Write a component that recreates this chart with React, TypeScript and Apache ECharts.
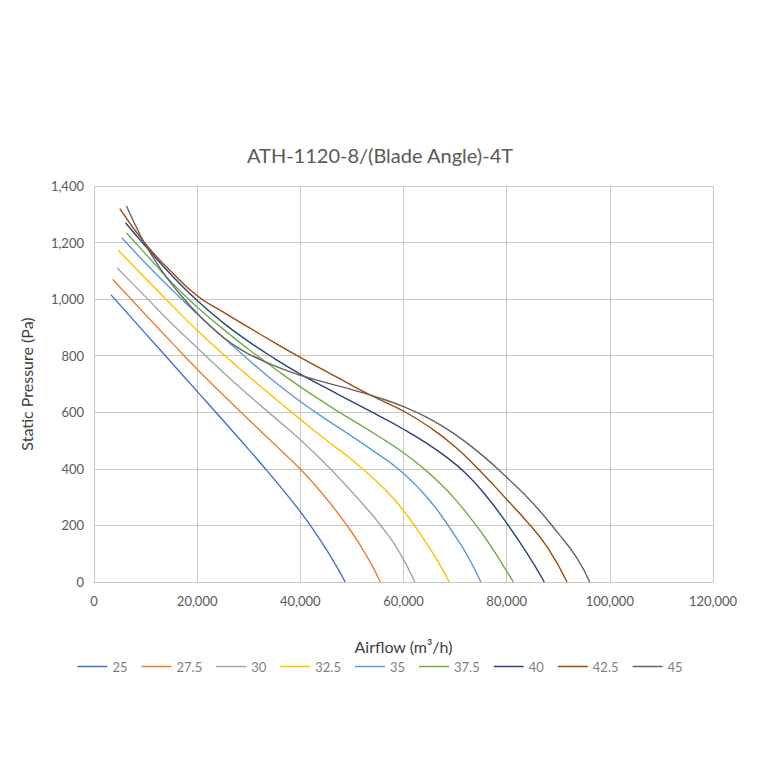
import React, { useEffect, useRef } from "react";
import * as echarts from "echarts";

const bladeAngles = ["25", "27.5", "30", "32.5", "35", "37.5", "40", "42.5", "45"];
const colors = ["#4472C4", "#ED7D31", "#A5A5A5", "#FFC000", "#5B9BD5", "#70AD47", "#264478", "#9E480E", "#636363"];

const s25 = [[3300, 1015], [10000, 878], [15000, 776], [20000, 674], [25000, 572], [30000, 468], [33000, 405], [36000, 340], [39000, 272], [41000, 224], [43000, 172], [45000, 116], [47000, 56], [48700, 0]];
const s27_5 = [[3600, 1070], [10000, 945], [15000, 848], [20000, 752], [25000, 662], [30000, 574], [35000, 487], [38000, 435], [41000, 380], [44000, 318], [47000, 250], [50000, 175], [52500, 103], [54000, 55], [55500, 0]];
const s30 = [[4500, 1110], [10000, 1008], [15000, 915], [20000, 828], [25000, 742], [30000, 660], [35000, 582], [40000, 503], [45000, 415], [50000, 318], [53000, 257], [56000, 190], [59000, 112], [62200, 0]];
const s32_5 = [[4700, 1173], [10000, 1073], [15000, 980], [20000, 890], [25000, 806], [30000, 727], [35000, 650], [40000, 575], [45000, 502], [50000, 432], [55000, 352], [58000, 296], [61000, 228], [64000, 150], [66500, 78], [68900, 0]];
const s35 = [[5400, 1217], [10000, 1127], [15000, 1035], [20000, 948], [25000, 865], [30000, 785], [35000, 708], [40000, 638], [45000, 575], [50000, 515], [55000, 453], [58000, 414], [61000, 367], [64000, 311], [67000, 243], [70000, 163], [72500, 90], [75000, 0]];
const s37_5 = [[6300, 1234], [10000, 1160], [15000, 1060], [20000, 972], [25000, 895], [30000, 822], [35000, 755], [40000, 690], [45000, 630], [50000, 573], [55000, 517], [60000, 457], [64000, 400], [67000, 350], [70000, 293], [73000, 226], [76000, 152], [79000, 68], [81300, 0]];
const s40 = [[6100, 1270], [10000, 1187], [15000, 1085], [20000, 995], [25000, 917], [30000, 850], [35000, 790], [40000, 735], [45000, 686], [50000, 638], [55000, 590], [60000, 540], [64000, 496], [68000, 446], [72000, 385], [76000, 305], [80000, 208], [84000, 100], [87300, 0]];
const s42_5 = [[5000, 1320], [10000, 1195], [15000, 1097], [20000, 1012], [25000, 955], [30000, 900], [35000, 846], [40000, 794], [45000, 745], [50000, 695], [55000, 648], [60000, 604], [65000, 548], [70000, 478], [75000, 390], [80000, 292], [84000, 212], [88000, 120], [91700, 0]];
const s45 = [[6300, 1329], [8000, 1262], [10000, 1192], [12500, 1118], [15000, 1055], [17500, 1000], [20000, 950], [22500, 905], [25000, 866], [27500, 833], [30000, 806], [35000, 764], [40000, 731], [45000, 705], [50000, 680], [55000, 653], [60000, 620], [65000, 578], [70000, 522], [75000, 452], [80000, 370], [85000, 280], [90000, 172], [93500, 88], [96100, 0]];

const seriesData = [s25, s27_5, s30, s32_5, s35, s37_5, s40, s42_5, s45];

const FONT = "Lato, 'Open Sans', sans-serif";

export default function App() {
  const ref = useRef<HTMLDivElement>(null);
  useEffect(() => {
    if (!ref.current) return;
    const chart = echarts.init(ref.current, undefined, { renderer: "svg" });
    chart.setOption({
      animation: false,
      color: colors,
      textStyle: { fontFamily: FONT },
      title: {
        text: "ATH-1120-8/(Blade Angle)-4T",
        left: "center",
        top: 132,
        textStyle: { fontSize: 20, fontWeight: "normal", color: "#595959", fontFamily: FONT },
      },
      grid: { left: 86, right: 39, top: 178, bottom: 170, containLabel: false },
      legend: {
        data: bladeAngles,
        bottom: 74,
        left: "center",
        icon: "rect",
        itemWidth: 30,
        itemHeight: 1.5,
        itemGap: 14,
        textStyle: { color: "#7f7f7f", fontSize: 13, fontFamily: FONT },
      },
      xAxis: {
        type: "value",
        min: 0,
        max: 120000,
        interval: 20000,
        name: "Airflow (m³/h)",
        nameLocation: "middle",
        nameGap: 56,
        nameTextStyle: { fontSize: 16, color: "#404040", fontFamily: FONT },
        axisLine: { show: true, lineStyle: { color: "#c8c8c8" } },
        axisTick: { show: false },
        axisLabel: {
          color: "#595959",
          fontSize: 13,
          margin: 12,
          formatter: (v: number) => v.toLocaleString("en-US"),
        },
        splitLine: { show: true, lineStyle: { color: "#c8c8c8", width: 1 } },
      },
      yAxis: {
        type: "value",
        min: 0,
        max: 1400,
        interval: 200,
        name: "Static Pressure (Pa)",
        nameLocation: "middle",
        nameGap: 60,
        nameTextStyle: { fontSize: 16, color: "#404040", fontFamily: FONT },
        axisLine: { show: false },
        axisTick: { show: false },
        axisLabel: {
          color: "#595959",
          fontSize: 13,
          margin: 10,
          formatter: (v: number) => v.toLocaleString("en-US"),
        },
        splitLine: { show: true, lineStyle: { color: "#c8c8c8", width: 1 } },
      },
      series: seriesData.map((d, i) => ({
        name: bladeAngles[i],
        type: "line",
        data: d,
        smooth: 0.5,
        showSymbol: false,
        symbol: "none",
        lineStyle: { width: 1.4, color: colors[i] },
        itemStyle: { color: colors[i] },
      })),
    });
    return () => chart.dispose();
  }, []);
  return <div ref={ref} style={{ width: 744, height: 744 }} />;
}
